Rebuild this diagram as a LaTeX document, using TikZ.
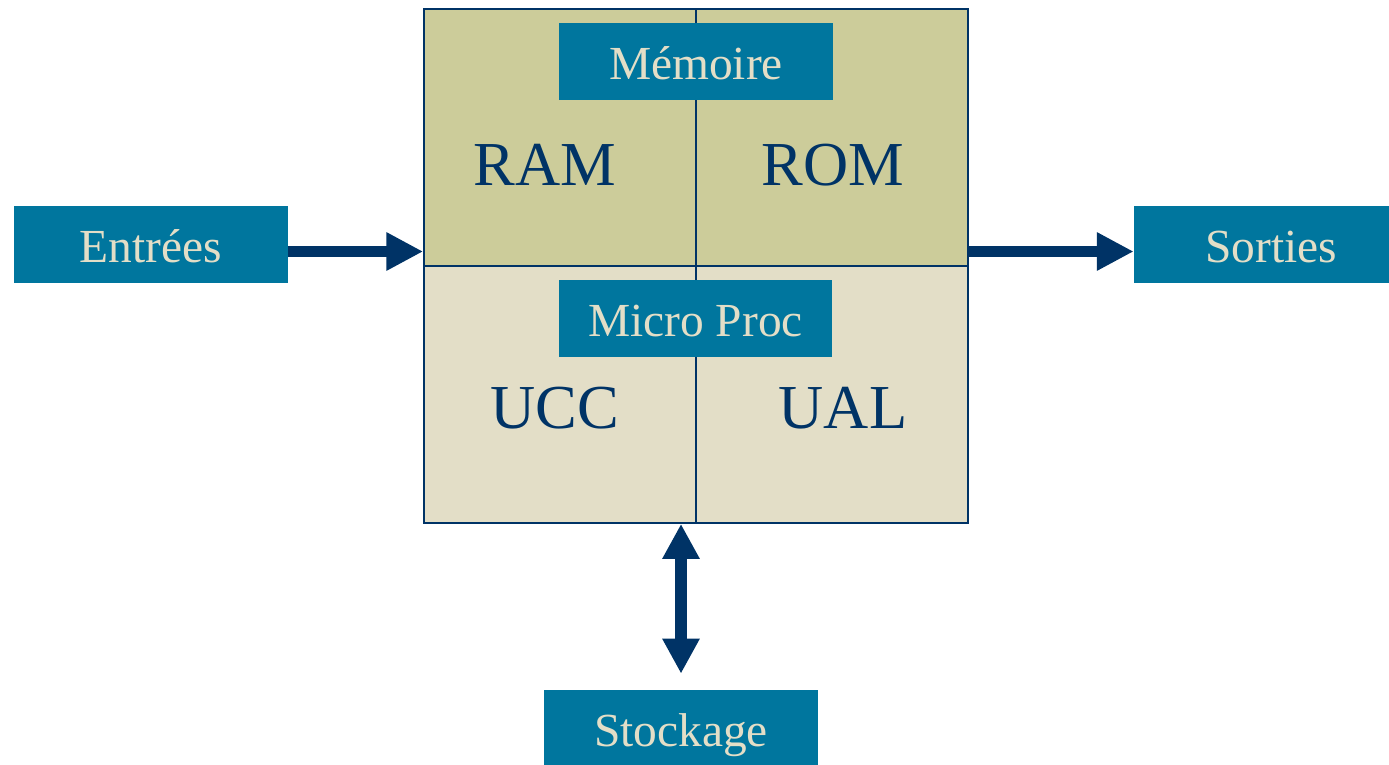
\documentclass[tikz,border=0pt]{standalone}
\usepackage{fontspec}
\setmainfont{Liberation Serif}
\usetikzlibrary{arrows.meta,calc}
\definecolor{tealbox}{RGB}{0,118,158}
\definecolor{olivezone}{RGB}{204,204,154}
\definecolor{sandzone}{RGB}{227,222,199}
\definecolor{navyline}{RGB}{0,51,102}
\tikzset{
  tag/.style={fill=tealbox,text=sandzone,font=\fontsize{27}{30}\selectfont,
    minimum width=5.48cm,minimum height=1.54cm,inner sep=0pt,
    text height=21pt,text depth=0pt},
  zone/.style={draw=navyline,line width=1pt,minimum width=10.88cm,
    minimum height=5.14cm,inner sep=0pt},
  unit/.style={text=navyline,font=\fontsize{35.6}{40}\selectfont,inner sep=0pt},
  flow/.style={draw=navyline,line width=6.5pt,-{Triangle[length=21pt,width=20.5pt]}},
  duplex/.style={draw=navyline,line width=6.5pt,
    {Triangle[length=20pt,width=20pt]}-{Triangle[length=20pt,width=20pt]}},
}

\begin{document}
\begin{tikzpicture}[x=0.02cm,y=-0.02cm]
  \useasboundingbox (0,0) rectangle (1389,764);
  % the two halves of the machine
  \node[zone,fill=olivezone] (memzone) at (696,137.5) {};
  \node[zone,fill=sandzone] (proczone) at (696,394.5) {};
  \draw[navyline,line width=1pt] (memzone.north) -- (proczone.south);
  \node[tag] (memoire) at (696,61.5) {Mémoire};
  \node[tag] (microproc) at (695.5,318.5) {Micro Proc};
  \node[unit] (ram) at (545,165) {RAM};
  \node[unit] (rom) at (833,165) {ROM};
  \node[unit] (ucc) at (555,408) {UCC};
  \node[unit] (ual) at (843,408) {UAL};
  % peripherals
  \node[tag] (entrees) at (151,244.5) {Entrées};
  \node[tag] (sorties) at (1271,244.5) {Sorties};
  \node[tag] (stockage) at (681,728.5) {Stockage};
  % data paths
  \coordinate (inlet) at ([yshift=-0.14cm]entrees.east);
  \coordinate (outlet) at ([yshift=-0.14cm]sorties.west);
  \coordinate (busend) at ([yshift=0.32cm]stockage.north);
  \draw[flow] (inlet) -- (inlet -| memzone.west);
  \draw[flow] (outlet -| memzone.east) -- (outlet);
  \draw[duplex] (busend |- proczone.south) -- (busend);
\end{tikzpicture}
\end{document}
